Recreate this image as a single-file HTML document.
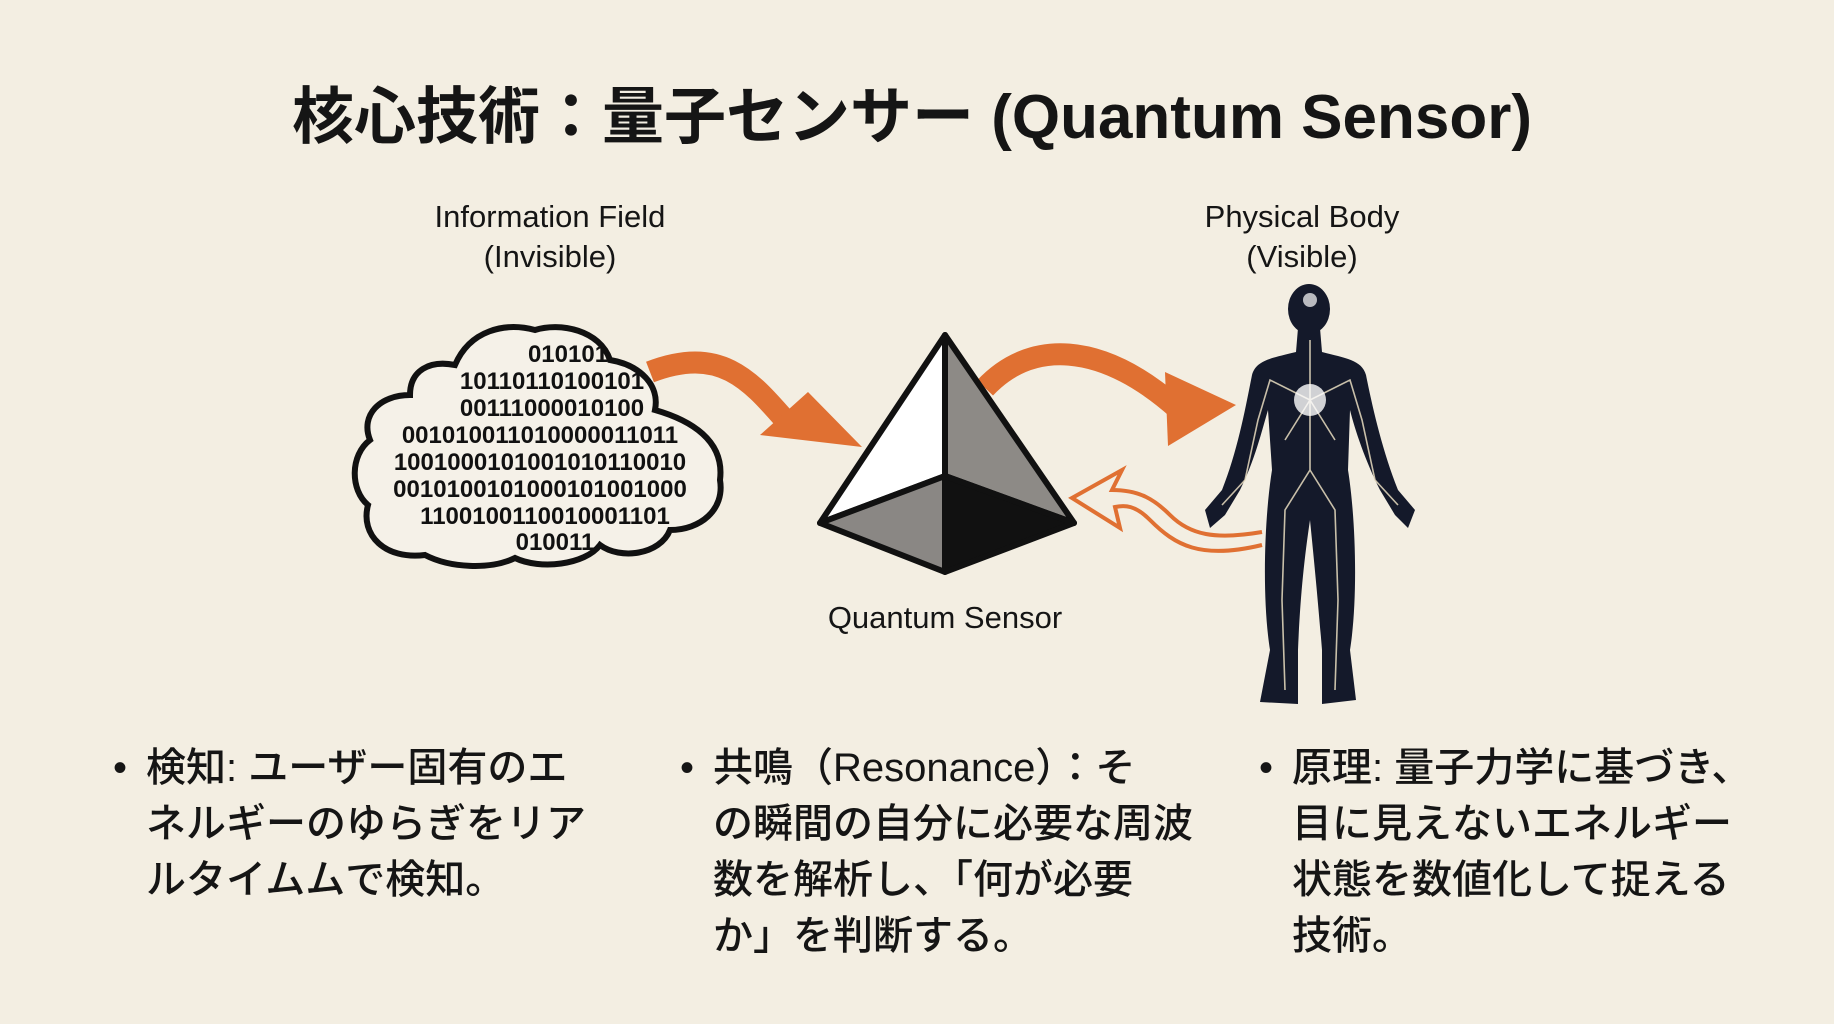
<!DOCTYPE html>
<html><head><meta charset="utf-8"><style>
html,body{margin:0;padding:0;background:#f3eee2;}
body{width:1834px;height:1024px;position:relative;overflow:hidden;font-family:"Liberation Sans","Noto Sans CJK JP",sans-serif;color:#151515;}
.t{position:absolute;white-space:nowrap;}
.b{position:absolute;font-size:40px;line-height:56px;font-weight:500;font-family:"Liberation Sans","Noto Sans CJK JP",sans-serif;}
.b span.d{position:absolute;left:-33px;top:0;}
</style></head><body>
<div class="t" style="left:0;width:1824px;text-align:center;top:66px;font-size:62px;font-weight:bold;">核心技術：量子センサー (Quantum Sensor)</div>
<div class="t" style="left:400px;width:300px;text-align:center;top:197px;font-size:31px;line-height:40px;">Information Field<br>(Invisible)</div>
<div class="t" style="left:1152px;width:300px;text-align:center;top:197px;font-size:31px;line-height:40px;">Physical Body<br>(Visible)</div>
<div class="t" style="left:795px;width:300px;text-align:center;top:600px;font-size:31px;">Quantum Sensor</div>

<svg width="1834" height="1024" style="position:absolute;left:0;top:0">
<path d="M425,555 C385,560 360,535 368,505 C350,490 350,455 370,440 C360,415 380,395 410,395 C410,370 430,360 455,365 C470,330 505,322 535,330 C560,322 600,330 610,360 C640,365 660,385 655,410 C690,420 725,440 720,480 C725,510 700,530 670,530 C660,555 620,560 600,545 C585,565 540,570 515,558 C490,570 450,568 425,555 Z" fill="#f5f1e8" stroke="#111" stroke-width="6"/>
<g font-family="Liberation Sans Narrow,Liberation Sans,sans-serif" font-size="24" font-weight="bold" text-anchor="middle" fill="#111">
<text x="568" y="362">010101</text>
<text x="552" y="389">10110110100101</text>
<text x="552" y="416">00111000010100</text>
<text x="540" y="443">001010011010000011011</text>
<text x="540" y="470">1001000101001010110010</text>
<text x="540" y="497">0010100101000101001000</text>
<text x="545" y="524">1100100110010001101</text>
<text x="555" y="550">010011</text>
</g>
<path d="M650,372 C720,345 750,380 785,420" fill="none" stroke="#e07032" stroke-width="22"/>
<polygon points="760,435 808,392 862,447" fill="#e07032"/>
<path d="M985,388 C1030,340 1100,340 1178,409" fill="none" stroke="#e07032" stroke-width="22"/>
<polygon points="1165,372 1236,405 1168,446" fill="#e07032"/>
<path d="M1262,545 C1200,560 1175,545 1150,520 C1135,505 1125,505 1115,507 L1120,528 L1072,498 L1122,470 L1112,490 C1140,490 1155,500 1170,515 C1190,535 1215,540 1262,532" fill="none" stroke="#e07032" stroke-width="4"/>
<polygon points="945,335 820,523 945,476" fill="#fff" stroke="#111" stroke-width="6" stroke-linejoin="round"/>
<polygon points="945,335 945,476 1074,523" fill="#8d8a86" stroke="#111" stroke-width="6" stroke-linejoin="round"/>
<polygon points="820,523 945,476 945,572" fill="#8a8784" stroke="#111" stroke-width="6" stroke-linejoin="round"/>
<polygon points="945,476 1074,523 945,572" fill="#111" stroke="#111" stroke-width="6" stroke-linejoin="round"/>
<g fill="#14192a">
<ellipse cx="1309" cy="309" rx="21" ry="25"/>
<path d="M1298,328 L1320,328 L1322,352 C1345,358 1362,360 1366,375 C1372,405 1382,450 1398,490 L1415,510 L1408,528 L1395,515 L1380,490 C1365,460 1355,430 1350,410 L1348,470 C1356,520 1358,600 1350,650 L1356,700 L1322,704 L1322,650 C1318,600 1314,560 1310,520 C1304,560 1300,600 1298,650 L1298,704 L1260,702 L1270,650 C1262,600 1264,520 1272,470 L1268,410 C1262,430 1255,460 1240,490 L1225,515 L1210,528 L1205,510 L1222,490 C1238,450 1246,405 1252,375 C1256,360 1272,358 1296,352 Z"/>
</g>
<g stroke="#e8dcc0" stroke-width="1.6" fill="none" opacity="0.85">
<path d="M1310,400 L1310,470 L1285,510 L1282,600 L1285,690"/>
<path d="M1310,470 L1335,510 L1338,600 L1335,690"/>
<path d="M1310,400 L1270,380 L1258,420 L1245,480 L1222,505"/>
<path d="M1310,400 L1350,380 L1362,420 L1375,480 L1398,505"/>
<path d="M1310,400 L1285,440 M1310,400 L1335,440 M1310,400 L1310,340"/>
</g>
<circle cx="1310" cy="400" r="16" fill="#fff" opacity="0.8"/>
<circle cx="1310" cy="300" r="7" fill="#fff" opacity="0.7"/>
</svg>

<div class="b" style="left:146px;top:740px;">
<span class="d">•</span>検知: ユーザー固有のエ<br>ネルギーのゆらぎをリア<br>ルタイムムで検知。</div>
<div class="b" style="left:713px;top:740px;">
<span class="d">•</span>共鳴（Resonance）：そ<br>の瞬間の自分に必要な周波<br>数を解析し、「何が必要<br>か」を判断する。</div>
<div class="b" style="left:1292px;top:740px;">
<span class="d">•</span>原理: 量子力学に基づき、<br>目に見えないエネルギー<br>状態を数値化して捉える<br>技術。</div>
</body></html>
